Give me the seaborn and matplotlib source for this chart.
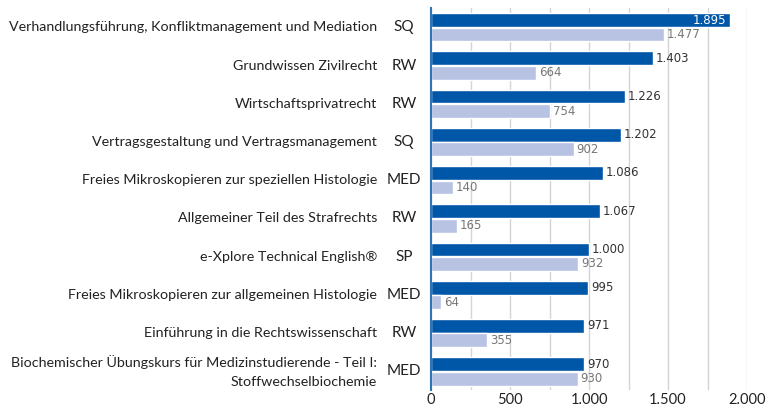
import pandas as pd
import matplotlib.pyplot as plt
import matplotlib.transforms as mtransforms
from matplotlib.font_manager import FontProperties
import seaborn as sns

# data
courses = [
    'Verhandlungsführung, Konfliktmanagement und Mediation',
    'Grundwissen Zivilrecht',
    'Wirtschaftsprivatrecht',
    'Vertragsgestaltung und Vertragsmanagement',
    'Freies Mikroskopieren zur speziellen Histologie',
    'Allgemeiner Teil des Strafrechts',
    'e-Xplore Technical English®',
    'Freies Mikroskopieren zur allgemeinen Histologie',
    'Einführung in die Rechtswissenschaft',
    'Biochemischer Übungskurs für Medizinstudierende - Teil I:\nStoffwechselbiochemie',
]
codes = ['SQ', 'RW', 'RW', 'SQ', 'MED', 'RW', 'SP', 'MED', 'RW', 'MED']
series_a = [1895, 1403, 1226, 1202, 1086, 1067, 1000, 995, 971, 970]
series_b = [1477, 664, 754, 902, 140, 165, 932, 64, 355, 930]
xticks = [0, 500, 1000, 1500, 2000]

df = pd.DataFrame({
    'course': courses * 2,
    'value': series_a + series_b,
    'series': ['a'] * len(courses) + ['b'] * len(courses),
})

dark = '#0057A8'
light = '#B8C3E3'

sns.set_style('white')
plt.rcParams['font.family'] = ['Lato', 'DejaVu Sans']

fig = plt.figure(figsize=(7.73, 4.11), dpi=100)
ax = fig.add_axes([0.5576, 0.05, 0.4088, 0.93])

sns.barplot(data=df, y='course', x='value', hue='series', orient='h',
            palette=[dark, light], width=0.76, gap=0.05, legend=False, ax=ax,
            saturation=1)

ax.set_xlim(0, 2000)
ax.set_xticks(xticks)
ax.set_xticklabels([f'{t:,}'.replace(',', '.') for t in xticks], fontsize=10.5, color='#222222')
ax.set_xticks(range(0, 2001, 250), minor=True)
ax.grid(axis='x', which='both', color='#D4D4D4', linewidth=1)
ax.set_axisbelow(True)
ax.tick_params(axis='x', which='both', length=0, pad=2)
ax.set_yticks(range(len(courses)))
ax.set_yticklabels([])
ax.tick_params(axis='y', length=0)
ax.set_xlabel('')
ax.set_ylabel('')
for s in ['top', 'right', 'bottom']:
    ax.spines[s].set_visible(False)
ax.spines['left'].set_color('#2E75B6')
ax.spines['left'].set_linewidth(1.5)

# category labels and codes
name_trans = mtransforms.offset_copy(ax.get_yaxis_transform(), fig=fig, x=-54, units='dots')
code_trans = mtransforms.offset_copy(ax.get_yaxis_transform(), fig=fig, x=-27, units='dots')
for i, (name, code) in enumerate(zip(courses, codes)):
    ax.text(0, i, name, transform=name_trans, ha='right', va='center',
            fontsize=10.3, color='#222222', linespacing=1.7)
    ax.text(0, i, code, transform=code_trans, ha='center', va='center',
            fontsize=11, color='#222222')


def fmt(v):
    return f'{v:,}'.replace(',', '.')


# value labels
vfont = FontProperties(family='DejaVu Sans', size=8.5)
conts = ax.containers
for j, bar in enumerate(conts[0]):
    v = series_a[j]
    yc = bar.get_y() + bar.get_height() / 2
    if v > 1800:
        ax.annotate(fmt(v), (v, yc), xytext=(-3, 0), textcoords='offset points',
                    ha='right', va='center', fontproperties=vfont, color='white')
    else:
        ax.annotate(fmt(v), (v, yc), xytext=(2, 0), textcoords='offset points',
                    ha='left', va='center', fontproperties=vfont, color='#333333')
for j, bar in enumerate(conts[1]):
    v = series_b[j]
    yc = bar.get_y() + bar.get_height() / 2
    ax.annotate(fmt(v), (v, yc), xytext=(2, 0), textcoords='offset points',
                ha='left', va='center', fontproperties=vfont, color='#777777')

fig.savefig('out.png', dpi=100)
